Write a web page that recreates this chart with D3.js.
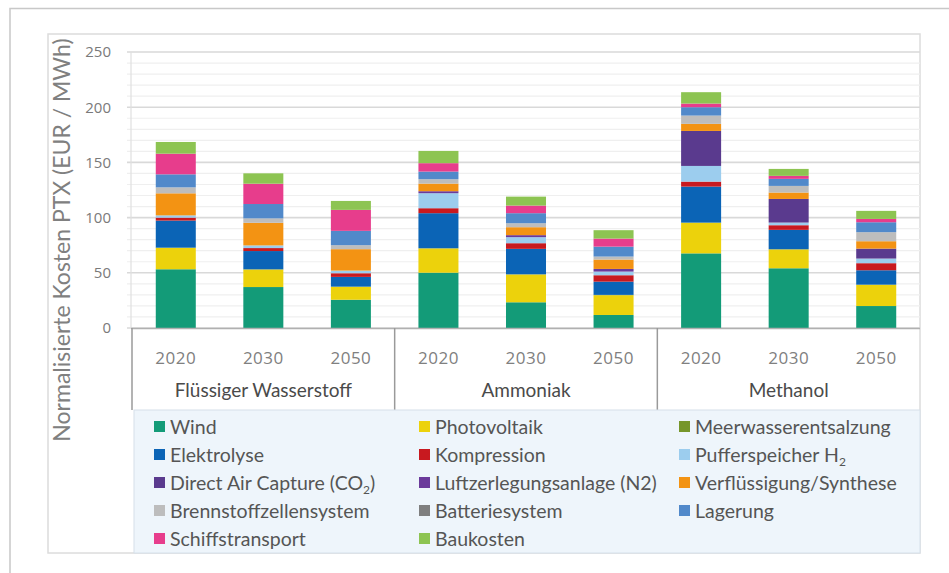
<!DOCTYPE html>
<html><head><meta charset="utf-8">
<script src="https://cdn.jsdelivr.net/npm/d3@7"></script>
<style>
body{margin:0;background:#fff;}
svg{display:block;font-family:"Open Sans",sans-serif;}
</style></head>
<body><svg id="c" width="949" height="573"></svg>
<script>
const groups = ["Flüssiger Wasserstoff","Ammoniak","Methanol"];
const years = ["2020","2030","2050"];
const yTicks = [0,50,100,150,200,250];

const seriesNames = ["Wind","Photovoltaik","Meerwasserentsalzung","Elektrolyse","Kompression","Pufferspeicher H2","Direct Air Capture (CO2)","Luftzerlegungsanlage (N2)","Verflüssigung/Synthese","Brennstoffzellensystem","Batteriesystem","Lagerung","Schiffstransport","Baukosten"];
const seriesColors = ["#139b78","#ecd20c","#76962b","#0b64b6","#c8191f","#9ccdee","#5a3a8e","#6b3a9b","#f39313","#bdbdbd","#7f7f7f","#5189ca","#e73d8c","#8dc452"];

const wind        = [53.2,37.1,25.6, 50.1,23.3,11.8, 67.6,54.1,19.9];
const photovoltaik= [19.3,15.8,11.6, 21.9,25.1,17.9, 27.6,17.0,19.1];
const meerwasser  = [0.3,0.3,0.3, 0.3,0.3,0.3, 0.3,0.3,0.3];
const elektrolyse = [24.5,16.5,8.8, 31.7,23.0,12.0, 32.6,17.5,13.0];
const kompression = [2.7,2.7,3.3, 4.5,5.1,5.8, 4.5,4.2,6.4];
const puffer      = [2.0,2.4,2.4, 13.6,5.5,3.3, 14.2,2.4,4.2];
const dac         = [0,0,0, 0,0,0, 31.7,21.4,9.0];
const luftzerleg  = [0,0,0, 1.8,1.8,2.4, 0,0,0];
const verfluess   = [20.0,20.5,19.4, 6.9,7.2,8.5, 6.4,5.8,6.7];
const brennstoff  = [5.4,4.0,3.6, 4.0,3.6,2.7, 7.5,6.0,8.2];
const batterie    = [0,0,0, 0,0,0, 0,0,0];
const lagerung    = [11.8,13.0,13.0, 6.9,9.1,9.0, 7.6,6.4,9.0];
const schiff      = [18.7,18.4,19.0, 7.6,6.9,7.3, 3.3,2.7,3.0];
const baukosten   = [10.6,9.4,8.1, 11.1,8.1,7.6, 10.3,6.3,7.3];
const seriesValues = [wind,photovoltaik,meerwasser,elektrolyse,kompression,puffer,dac,luftzerleg,verfluess,brennstoff,batterie,lagerung,schiff,baukosten];

const svg = d3.select("#c");
const LATO = "Lato, 'Open Sans', sans-serif";

// outer frame
svg.append("path").attr("d","M10,573 V8.5 H949").attr("fill","none").attr("stroke","#c8c8c8").attr("stroke-width",1.5);
// inner chart box
svg.append("rect").attr("x",48).attr("y",34).attr("width",872).attr("height",519)
  .attr("fill","#fff").attr("stroke","#dcdcdc").attr("stroke-width",1.5);

const cats = [];
groups.forEach(g=>years.forEach(y=>cats.push(g+"|"+y)));
const x = d3.scaleBand().domain(cats).range([132,920]).paddingInner(0.543).paddingOuter(0.2715);
const y = d3.scaleLinear().domain([0,250]).range([328,52]);

// gridlines
const minor = d3.range(0,251,10);
svg.append("g").selectAll("line").data(minor).join("line")
  .attr("x1",127).attr("x2",920).attr("y1",d=>y(d)).attr("y2",d=>y(d))
  .attr("stroke",d=>d%50===0?"#d9d9d9":"#efefef").attr("stroke-width",d=>d%50===0?1.6:1.2);
// left axis line
svg.append("line").attr("x1",131).attr("x2",131).attr("y1",y(250)).attr("y2",328).attr("stroke","#e0e0e0").attr("stroke-width",1.2);

// y axis labels
const yAxis = d3.axisLeft(y).tickValues(yTicks).tickSize(0).tickPadding(0);
const ya = svg.append("g").attr("transform","translate(111,0)").call(yAxis);
ya.select(".domain").remove();
ya.selectAll("text").attr("font-size",15).attr("fill","#7a7a7a").attr("font-family","'Open Sans',sans-serif");

// y title
svg.append("text").attr("transform","translate(70,240) rotate(-90)").attr("text-anchor","middle")
  .attr("font-family",LATO).attr("font-size",23).attr("fill","#808080").text("Normalisierte Kosten PTX (EUR / MWh)");

// stacked bars
const rows = cats.map((c,i)=>{const o={cat:c}; seriesNames.forEach((s,j)=>o[s]=seriesValues[j][i]); return o;});
const stack = d3.stack().keys(seriesNames)(rows);
svg.append("g").selectAll("g").data(stack).join("g").attr("fill",(d,i)=>seriesColors[i])
  .selectAll("rect").data(d=>d).join("rect")
  .attr("x",d=>x(d.data.cat)).attr("width",x.bandwidth())
  .attr("y",d=>y(d[1])).attr("height",d=>Math.max(0,y(d[0])-y(d[1])));

// category axis
svg.append("line").attr("x1",131).attr("x2",920).attr("y1",328.5).attr("y2",328.5).attr("stroke","#b0b0b0").attr("stroke-width",1.5);
const groupEdges = [0,3,6].map(i=>x(cats[i]) - x.step()*x.paddingOuter());
groupEdges.forEach(gx=>{
  svg.append("line").attr("x1",gx).attr("x2",gx).attr("y1",328).attr("y2",410).attr("stroke","#9a9a9a").attr("stroke-width",1.5);
});
const xa = svg.append("g").attr("transform","translate(0,358)").call(d3.axisBottom(x).tickSize(0).tickPadding(0).tickFormat(d=>d.split("|")[1]));
xa.select(".domain").remove();
xa.selectAll("text").attr("font-size",17).attr("fill","#808080").attr("dy","0.35em").attr("y",0).attr("font-family","'Open Sans',sans-serif").attr("letter-spacing","0.5");
groups.forEach((g,i)=>{
  const cx = x(cats[i*3+1]) + x.bandwidth()/2;
  svg.append("text").attr("x",cx).attr("y",390).attr("dy","0.35em").attr("text-anchor","middle")
    .attr("font-family",LATO).attr("font-size",19).attr("fill","#4a4a4a").text(g);
});

// legend
svg.append("rect").attr("x",134).attr("y",410).attr("width",786).attr("height",143)
  .attr("fill","#eef5fb").attr("stroke","#d6e0ea").attr("stroke-width",1);
const legendLabels = [
  ["Wind"],["Photovoltaik"],["Meerwasserentsalzung"],
  ["Elektrolyse"],["Kompression"],["Pufferspeicher H","2"],
  ["Direct Air Capture (CO","2",")"],["Luftzerlegungsanlage (N2)"],["Verflüssigung/Synthese"],
  ["Brennstoffzellensystem"],["Batteriesystem"],["Lagerung"],
  ["Schiffstransport"],["Baukosten"]
];
const colX = [154,419,679];
legendLabels.forEach((lab,i)=>{
  const r = Math.floor(i/3), c = i%3;
  const ly = 427 + r*28;
  const g = svg.append("g");
  g.append("rect").attr("x",colX[c]).attr("y",ly-6).attr("width",11).attr("height",11).attr("fill",seriesColors[i]);
  const t = g.append("text").attr("x",colX[c]+16).attr("y",ly).attr("dy","0.35em")
    .attr("font-family",LATO).attr("font-size",19.5).attr("fill","#555");
  t.append("tspan").text(lab[0]);
  if(lab.length>1){
    t.append("tspan").attr("font-size",12).attr("dy",4.5).text(lab[1]);
    if(lab[2]) t.append("tspan").attr("dy",-4.5).text(lab[2]);
  }
});
</script></body></html>
